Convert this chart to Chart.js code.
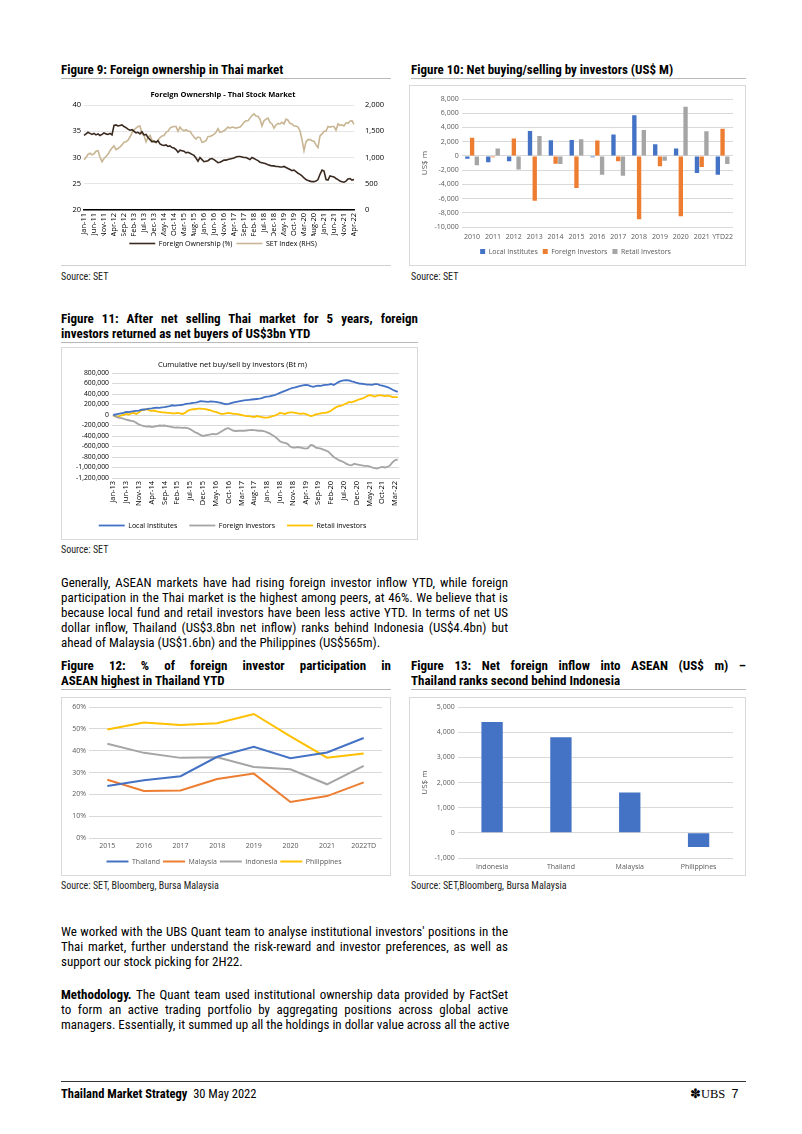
<!DOCTYPE html>
<html><head><meta charset="utf-8">
<script src="https://cdn.jsdelivr.net/npm/chart.js@4.4.1/dist/chart.umd.min.js"></script>
<style>
html,body{margin:0;padding:0;background:#fff;}
body{width:802px;height:1134px;position:relative;overflow:hidden;font-family:"Liberation Sans Narrow","Roboto Condensed","Open Sans",sans-serif;color:#000;}
.abs{position:absolute;}
.ft{font-weight:bold;font-size:13px;line-height:15px;white-space:nowrap;}
.jl{text-align:justify;text-align-last:justify;white-space:nowrap;}
.rule{position:absolute;height:1px;background:#b9b9b9;}
.src{position:absolute;font-size:10px;color:#222;}
.p{position:absolute;left:61px;width:447px;font-size:13px;line-height:15px;}
.p div{height:15px;}
.box{position:absolute;border:1px solid #d9d9d9;box-sizing:border-box;}
canvas{display:block;}
</style></head><body>

<div class="abs ft" style="left:61px;top:62px;">Figure 9: Foreign ownership in Thai market</div>
<div class="rule" style="left:61px;top:78px;width:330px;"></div>
<div class="abs ft" style="left:411px;top:62px;">Figure 10: Net buying/selling by investors (US$ M)</div>
<div class="rule" style="left:411px;top:78px;width:335px;"></div>

<div class="abs" style="left:61px;top:85px;"><canvas id="c9" width="330" height="176"></canvas></div>
<div class="rule" style="left:61px;top:265px;width:330px;background:#d0d0d0;"></div>
<div class="box" style="left:409px;top:85px;width:337px;height:181px;"><canvas id="c10" width="335" height="179"></canvas></div>

<div class="src" style="left:61px;top:271px;">Source: SET</div>
<div class="src" style="left:411px;top:271px;">Source: SET</div>

<div class="abs ft jl" style="left:61px;top:311px;width:357px;">Figure 11: After net selling Thai market for 5 years, foreign</div>
<div class="abs ft" style="left:61px;top:326px;">investors returned as net buyers of US$3bn YTD</div>
<div class="rule" style="left:61px;top:342px;width:357px;"></div>
<div class="box" style="left:61px;top:347px;width:357px;height:193px;"><canvas id="c11" width="355" height="191"></canvas></div>
<div class="src" style="left:61px;top:544px;">Source: SET</div>

<div class="p" style="top:575px;">
<div class="jl">Generally, ASEAN markets have had rising foreign investor inflow YTD, while foreign</div>
<div class="jl">participation in the Thai market is the highest among peers, at 46%. We believe that is</div>
<div class="jl">because local fund and retail investors have been less active YTD. In terms of net US</div>
<div class="jl">dollar inflow, Thailand (US$3.8bn net inflow) ranks behind Indonesia (US$4.4bn) but</div>
<div>ahead of Malaysia (US$1.6bn) and the Philippines (US$565m).</div>
</div>

<div class="abs ft jl" style="left:61px;top:658px;width:330px;">Figure 12: % of foreign investor participation in</div>
<div class="abs ft" style="left:61px;top:673px;">ASEAN highest in Thailand YTD</div>
<div class="rule" style="left:61px;top:689px;width:330px;"></div>
<div class="abs ft jl" style="left:411px;top:658px;width:335px;">Figure 13: Net foreign inflow into ASEAN (US$ m) –</div>
<div class="abs ft" style="left:411px;top:673px;">Thailand ranks second behind Indonesia</div>
<div class="rule" style="left:411px;top:689px;width:335px;"></div>

<div class="box" style="left:61px;top:697px;width:330px;height:179px;"><canvas id="c12" width="328" height="177"></canvas></div>
<div class="box" style="left:409px;top:697px;width:337px;height:179px;"><canvas id="c13" width="335" height="177"></canvas></div>
<div class="src" style="left:61px;top:880px;">Source: SET, Bloomberg, Bursa Malaysia</div>
<div class="src" style="left:411px;top:880px;">Source: SET,Bloomberg, Bursa Malaysia</div>

<div class="p" style="top:924px;">
<div class="jl">We worked with the UBS Quant team to analyse institutional investors' positions in the</div>
<div class="jl">Thai market, further understand the risk-reward and investor preferences, as well as</div>
<div>support our stock picking for 2H22.</div>
</div>
<div class="p" style="top:987px;">
<div class="jl"><b>Methodology.</b> The Quant team used institutional ownership data provided by FactSet</div>
<div class="jl">to form an active trading portfolio by aggregating positions across global active</div>
<div class="jl">managers. Essentially, it summed up all the holdings in dollar value across all the active</div>
</div>

<div class="abs" style="left:61px;top:1081px;width:685px;height:1px;background:#333;"></div>
<div class="abs" style="left:61px;top:1086px;font-size:12.5px;white-space:nowrap;"><b>Thailand Market Strategy</b>&nbsp;&nbsp;30 May 2022</div>
<div class="abs" style="left:690px;top:1086px;font-size:12.5px;white-space:nowrap;font-family:'Liberation Serif',serif;">✽UBS&nbsp;&nbsp;<span style="font-family:'Liberation Sans Narrow',sans-serif;">7</span></div>

<script>
// ---------- Figure 9 data ----------
const fig9Months = [];
const monAbbr = ['Jan','Feb','Mar','Apr','May','Jun','Jul','Aug','Sep','Oct','Nov','Dec'];
for (let y = 11; y <= 22; y++) for (let m = 0; m < 12; m++) { if (y === 22 && m > 3) break; fig9Months.push(monAbbr[m] + '-' + y); }
const foreignOwnership = [
 34.2,34.5,34.8,34.6,34.4,34.6,34.3,34.5,34.2,34.4,34.7,34.5,
 34.4,34.6,34.3,36.1,36.2,36.0,36.1,36.2,35.9,35.7,35.4,35.2,
 35.3,35.0,34.7,34.8,34.5,34.9,34.3,34.4,33.8,33.4,33.0,33.1,
 32.9,33.2,32.6,32.4,32.3,32.4,32.1,32.2,31.9,31.8,31.5,31.0,
 31.4,31.3,31.2,30.9,31.0,30.8,30.6,30.4,29.9,29.3,30.0,29.6,
 29.2,29.3,29.4,29.7,29.8,29.6,29.3,29.0,29.1,29.3,29.5,29.5,
 29.6,29.7,29.8,29.9,30.1,30.2,30.2,30.1,30.0,30.0,29.8,29.6,
 30.0,29.8,29.6,29.4,29.1,29.0,28.9,28.8,28.6,28.5,28.4,28.4,
 28.3,28.3,28.2,28.2,28.3,28.1,27.9,27.7,27.5,27.6,27.3,27.0,
 26.8,26.5,26.1,25.8,25.6,25.5,25.4,25.4,25.5,25.8,26.8,27.6,
 27.4,25.8,25.7,26.5,26.4,26.3,26.0,25.8,25.5,25.4,25.3,25.5,
 25.9,26.0,25.7,25.8];
const setIndex = [
 960,1000,1060,1080,1050,1070,1120,1130,1010,920,980,1020,
 1060,1130,1180,1220,1150,1170,1200,1240,1290,1300,1330,1390,
 1470,1530,1560,1590,1600,1450,1420,1300,1380,1420,1330,1300,
 1280,1330,1380,1410,1420,1480,1500,1560,1580,1590,1590,1500,
 1580,1530,1510,1530,1500,1500,1440,1390,1350,1390,1380,1290,
 1300,1320,1400,1400,1420,1440,1480,1550,1480,1490,1510,1540,
 1580,1560,1580,1570,1560,1570,1580,1620,1670,1700,1700,1750,
 1800,1830,1790,1780,1730,1600,1700,1730,1750,1670,1640,1560,
 1620,1650,1640,1670,1640,1730,1710,1650,1640,1600,1600,1580,
 1510,1340,1130,1300,1340,1340,1320,1310,1240,1190,1410,1450,
 1500,1500,1590,1580,1590,1590,1520,1640,1610,1620,1600,1660,
 1650,1690,1700,1630];

// ---------- Figure 10 data ----------
const fig10Years = ['2010','2011','2012','2013','2014','2015','2016','2017','2018','2019','2020','2021','YTD22'];
const localInst10 = [-400,-900,-750,3500,2200,2250,-200,3000,5700,1650,1050,-2400,-2650];
const foreignInv10 = [2550,-200,2450,-6300,-1100,-4500,2150,-750,-8900,-1450,-8500,-1550,3800];
const retailInv10 = [-1300,1050,-1900,2800,-1150,2350,-2650,-2800,3650,-700,6900,3450,-1150];

// ---------- Figure 11 data ----------
const fig11Months = [];
for (let y = 13; y <= 22; y++) for (let m = 0; m < 12; m++) { if (y === 22 && m > 3) break; fig11Months.push(monAbbr[m] + '-' + y); }
const localCum = [
 0,10000,20000,30000,40000,60000,55000,65000,75000,80000,85000,100000,
 105000,110000,120000,125000,135000,140000,135000,145000,150000,160000,170000,185000,
 180000,185000,190000,195000,205000,215000,220000,230000,235000,245000,265000,260000,
 255000,250000,260000,255000,250000,240000,230000,215000,205000,210000,225000,240000,
 250000,260000,270000,280000,285000,290000,295000,300000,305000,310000,320000,340000,
 350000,355000,370000,380000,400000,420000,440000,460000,480000,500000,515000,525000,
 540000,555000,565000,575000,570000,550000,535000,550000,560000,555000,570000,575000,
 580000,590000,570000,600000,630000,650000,660000,665000,660000,640000,630000,610000,
 600000,595000,590000,580000,580000,575000,590000,590000,570000,560000,545000,530000,
 510000,480000,460000,440000];
const foreignCum = [
 0,-30000,-50000,-60000,-70000,-90000,-100000,-110000,-120000,-150000,-180000,-200000,
 -210000,-220000,-215000,-230000,-220000,-210000,-200000,-205000,-200000,-210000,-220000,-230000,
 -240000,-235000,-240000,-245000,-240000,-250000,-270000,-300000,-330000,-350000,-380000,-400000,
 -390000,-380000,-370000,-360000,-370000,-350000,-320000,-290000,-260000,-250000,-280000,-300000,
 -305000,-300000,-300000,-300000,-295000,-290000,-285000,-290000,-295000,-300000,-300000,-310000,
 -330000,-350000,-380000,-410000,-450000,-500000,-520000,-530000,-550000,-600000,-620000,-620000,
 -610000,-620000,-630000,-640000,-630000,-570000,-580000,-620000,-630000,-640000,-660000,-680000,
 -700000,-750000,-800000,-830000,-860000,-880000,-900000,-930000,-950000,-960000,-930000,-940000,
 -950000,-960000,-970000,-970000,-980000,-1000000,-1010000,-1020000,-1000000,-990000,-1000000,-990000,
 -960000,-900000,-860000,-850000];
const retailCum = [
 -20000,-25000,-30000,-10000,0,20000,10000,30000,40000,20000,50000,90000,
 100000,110000,90000,80000,85000,70000,60000,50000,50000,40000,40000,30000,
 30000,40000,30000,20000,40000,80000,100000,110000,110000,120000,120000,115000,
 110000,100000,90000,70000,60000,40000,20000,20000,30000,40000,30000,20000,
 20000,10000,0,-10000,-20000,-20000,-30000,-40000,-20000,-30000,-40000,-50000,
 -50000,-40000,-20000,-10000,10000,40000,30000,20000,40000,50000,50000,40000,
 30000,20000,30000,20000,0,-20000,-10000,10000,20000,30000,40000,40000,
 60000,80000,120000,150000,170000,180000,200000,220000,250000,240000,260000,280000,
 300000,310000,330000,360000,380000,370000,350000,370000,380000,370000,360000,370000,
 360000,340000,340000,340000];

// ---------- Figure 12 data ----------
const fig12Years = ['2015','2016','2017','2018','2019','2020','2021','2022TD'];
const thailand12 = [23.8,26.5,28.3,37.2,41.8,36.5,39.2,45.8];
const malaysia12 = [26.7,21.5,21.8,27.0,29.5,16.5,19.2,25.5];
const indonesia12 = [43.2,39.0,36.7,37.0,32.5,31.5,24.6,33.0];
const philippines12 = [49.7,52.9,51.8,52.6,56.8,46.5,36.8,38.7];

// ---------- Figure 13 data ----------
const fig13Countries = ['Indonesia','Thailand','Malaysia','Philippines'];
const netInflow13 = [4400,3800,1600,-565];

// ---------- charts ----------
Chart.defaults.font.family = '"Open Sans", "Liberation Sans", sans-serif';
Chart.defaults.animation = false;
Chart.defaults.devicePixelRatio = 1;
Chart.defaults.responsive = false;
Chart.defaults.plugins.tooltip.enabled = false;
const NARROW = '"Liberation Sans Narrow", "Open Sans", sans-serif';
const fmt = v => Number(v).toLocaleString('en-US');
const GREY = '#595959';
const BLUE = '#4472C4', ORANGE = '#ED7D31', GRAY = '#A5A5A5', YELLOW = '#FFC000';
const fixW = w => (s => { s.width = w; });
const fixH = h => (s => { s.height = h; });

new Chart(document.getElementById('c9'), {
  type: 'line',
  data: { labels: fig9Months, datasets: [
    { label: 'Foreign Ownership (%)', data: foreignOwnership, borderColor: '#3a2a20', backgroundColor: '#3a2a20', borderWidth: 1.6, pointRadius: 0, yAxisID: 'y' },
    { label: 'SET Index (RHS)', data: setIndex, borderColor: '#c8b593', backgroundColor: '#c8b593', borderWidth: 1.6, pointRadius: 0, yAxisID: 'y1' }
  ]},
  options: {
    layout: { padding: { left: 0, right: 6, top: 0, bottom: 4 } },
    plugins: {
      title: { display: true, text: 'Foreign Ownership - Thai Stock Market', color: '#000', font: { size: 7.5, weight: 'bold' }, padding: { top: 5, bottom: 6 } },
      legend: { position: 'bottom', labels: { usePointStyle: true, pointStyle: 'line', pointStyleWidth: 26, boxHeight: 7, color: '#000', font: { size: 7 }, padding: 4 } }
    },
    scales: {
      x: { offset: false, grid: { display: false, drawTicks: false }, border: { color: '#000', width: 1.5 },
           ticks: { autoSkip: false, maxRotation: 90, minRotation: 90, color: '#000', font: { size: 7.5, family: NARROW }, padding: 3,
                    callback: (v, i) => (i % 5 === 0 ? fig9Months[i] : '') },
           afterFit: fixH(26) },
      y: { position: 'left', min: 20, max: 40, ticks: { stepSize: 5, color: '#000', font: { size: 7.5 } }, grid: { color: '#e6e6e6', drawTicks: false }, border: { display: false }, afterFit: fixW(23) },
      y1: { position: 'right', min: 0, max: 2000, ticks: { stepSize: 500, color: '#000', font: { size: 7.5 }, callback: fmt }, grid: { display: false }, border: { display: false }, afterFit: fixW(31) }
    }
  }
});

new Chart(document.getElementById('c10'), {
  type: 'bar',
  data: { labels: fig10Years, datasets: [
    { label: 'Local Institutes', data: localInst10, backgroundColor: BLUE },
    { label: 'Foreign Investors', data: foreignInv10, backgroundColor: ORANGE },
    { label: 'Retail Investors', data: retailInv10, backgroundColor: GRAY }
  ]},
  options: {
    layout: { padding: { left: 8, right: 12, top: 13, bottom: 0 } },
    datasets: { bar: { categoryPercentage: 0.68, barPercentage: 0.92 } },
    plugins: {
      legend: { position: 'bottom', labels: { boxWidth: 5, boxHeight: 5, color: GREY, font: { size: 7 }, padding: 5 } }
    },
    scales: {
      x: { grid: { display: false, drawTicks: false }, border: { display: false }, ticks: { autoSkip: false, maxRotation: 0, minRotation: 0, color: GREY, font: { size: 7 }, padding: 6 }, afterFit: fixH(16) },
      y: { min: -10000, max: 8000, ticks: { stepSize: 2000, autoSkip: false, color: GREY, font: { size: 7 }, callback: fmt }, grid: { color: '#d9d9d9', drawTicks: false }, border: { display: false },
           title: { display: true, text: 'US$ m', color: GREY, font: { size: 8 }, padding: 2 } }
    }
  }
});

new Chart(document.getElementById('c11'), {
  type: 'line',
  data: { labels: fig11Months, datasets: [
    { label: 'Local Institutes', data: localCum, borderColor: BLUE, backgroundColor: BLUE, borderWidth: 1.8, pointRadius: 0 },
    { label: 'Foreign Investors', data: foreignCum, borderColor: GRAY, backgroundColor: GRAY, borderWidth: 1.8, pointRadius: 0 },
    { label: 'Retail investors', data: retailCum, borderColor: YELLOW, backgroundColor: YELLOW, borderWidth: 1.8, pointRadius: 0 }
  ]},
  options: {
    layout: { padding: { left: 4, right: 18, top: 0, bottom: 0 } },
    plugins: {
      title: { display: true, text: 'Cumulative net buy/sell by investors (Bt m)', color: '#000', font: { size: 7.5, weight: 'normal' }, padding: { top: 12, bottom: 4 } },
      legend: { position: 'bottom', labels: { usePointStyle: true, pointStyle: 'line', pointStyleWidth: 26, boxHeight: 7, color: '#000', font: { size: 7 }, padding: 12 } }
    },
    scales: {
      x: { offset: true, grid: { display: false, drawTicks: false }, border: { color: '#d9d9d9' },
           ticks: { autoSkip: false, maxRotation: 90, minRotation: 90, color: '#000', font: { size: 7.5, family: NARROW }, padding: 3,
                    callback: (v, i) => (i % 5 === 0 ? fig11Months[i] : '') },
           afterFit: fixH(32) },
      y: { min: -1200000, max: 800000, ticks: { stepSize: 200000, autoSkip: false, color: '#000', font: { size: 6.8 }, callback: fmt }, grid: { color: '#d9d9d9', drawTicks: false }, border: { display: false }, afterFit: fixW(46) }
    }
  }
});

new Chart(document.getElementById('c12'), {
  type: 'line',
  data: { labels: fig12Years, datasets: [
    { label: 'Thailand', data: thailand12, borderColor: BLUE, backgroundColor: BLUE, borderWidth: 2, pointRadius: 0 },
    { label: 'Malaysia', data: malaysia12, borderColor: ORANGE, backgroundColor: ORANGE, borderWidth: 2, pointRadius: 0 },
    { label: 'Indonesia', data: indonesia12, borderColor: GRAY, backgroundColor: GRAY, borderWidth: 2, pointRadius: 0 },
    { label: 'Philippines', data: philippines12, borderColor: YELLOW, backgroundColor: YELLOW, borderWidth: 2, pointRadius: 0 }
  ]},
  options: {
    layout: { padding: { left: 4, right: 8, top: 9, bottom: 0 } },
    plugins: {
      legend: { position: 'bottom', labels: { usePointStyle: true, pointStyle: 'line', pointStyleWidth: 22, boxHeight: 7, color: GREY, font: { size: 7 }, padding: 3 } }
    },
    scales: {
      x: { offset: true, grid: { display: false, drawTicks: false }, border: { display: false }, ticks: { color: GREY, font: { size: 7 }, padding: 4 }, afterFit: fixH(17) },
      y: { min: 0, max: 60, ticks: { stepSize: 10, color: GREY, font: { size: 7 }, callback: v => v + '%' }, grid: { color: '#d9d9d9', drawTicks: false }, border: { display: false }, afterFit: fixW(23) }
    }
  }
});

new Chart(document.getElementById('c13'), {
  type: 'bar',
  data: { labels: fig13Countries, datasets: [
    { label: 'Net foreign inflow', data: netInflow13, backgroundColor: BLUE }
  ]},
  options: {
    layout: { padding: { left: 8, right: 12, top: 9, bottom: 0 } },
    datasets: { bar: { categoryPercentage: 1, barPercentage: 0.31 } },
    plugins: { legend: { display: false } },
    scales: {
      x: { grid: { display: false, drawTicks: false }, border: { display: false }, ticks: { color: GREY, font: { size: 7 }, padding: 5 }, afterFit: fixH(17) },
      y: { min: -1000, max: 5000, ticks: { stepSize: 1000, color: GREY, font: { size: 7 }, callback: fmt }, grid: { color: '#d9d9d9', drawTicks: false }, border: { display: false },
           title: { display: true, text: 'US$ m', color: GREY, font: { size: 8 }, padding: 2 } }
    }
  }
});
</script>
</body></html>
